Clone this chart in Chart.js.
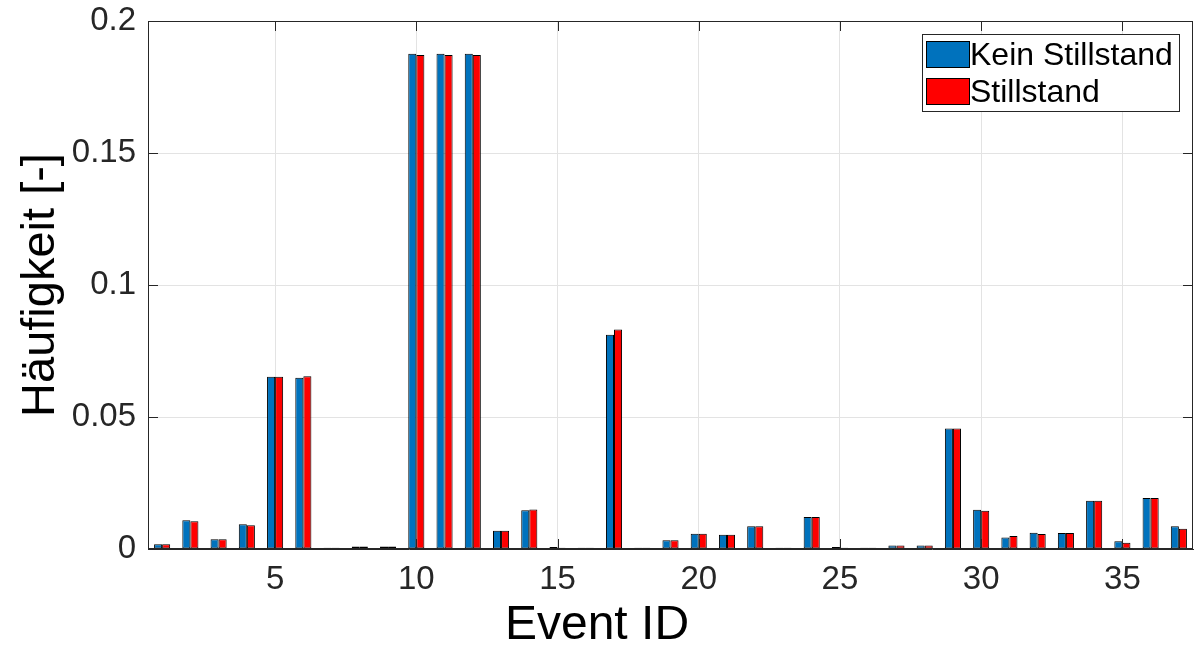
<!DOCTYPE html>
<html>
<head>
<meta charset="utf-8">
<script src="https://cdn.jsdelivr.net/npm/chart.js@4.4.1/dist/chart.umd.min.js"></script>
<style>
    html, body { margin: 0; padding: 0; background: #fff; }
    #wrap { width: 1201px; height: 647px; }
</style>
</head>
<body>
<div id="wrap"><canvas id="myChart" width="1201" height="647"></canvas></div>
<script>
// Event IDs 1..37
const eventIds = [1, 2, 3, 4, 5, 6, 7, 8, 9, 10, 11, 12, 13, 14, 15, 16, 17, 18, 19,
    20, 21, 22, 23, 24, 25, 26, 27, 28, 29, 30, 31, 32, 33, 34, 35, 36, 37];

const keinStillstand = [0.0018, 0.0109, 0.0037, 0.0094, 0.0652, 0.0649, 0.0005, 0.0009, 0.0009,
    0.1876, 0.1876, 0.1876, 0.0069, 0.0147, 0.0008, 0.0005, 0.0812, 0.0005, 0.0033,
    0.0058, 0.0054, 0.0086, 0.0005, 0.0121, 0.0008, 0.0005, 0.0013, 0.0013, 0.0456,
    0.0149, 0.0044, 0.0062, 0.0061, 0.0183, 0.0029, 0.0193, 0.0086];

const stillstand = [0.0018, 0.0105, 0.0037, 0.0090, 0.0652, 0.0654, 0.0005, 0.0009, 0.0009,
    0.1871, 0.1871, 0.1871, 0.0069, 0.0150, 0.0005, 0.0005, 0.0831, 0.0005, 0.0033,
    0.0058, 0.0054, 0.0086, 0.0005, 0.0121, 0.0005, 0.0005, 0.0013, 0.0013, 0.0456,
    0.0145, 0.0049, 0.0057, 0.0061, 0.0183, 0.0024, 0.0193, 0.0077];

const yTicks = [0, 0.05, 0.1, 0.15, 0.2];
const xTickStep = 5;

const axisColor = '#262626';
const gridColor = '#e3e3e3';
const fontFamily = 'Arial, "Liberation Sans", sans-serif';

// box + inner ticks + x title + legend inside top right (matlab look)
const matlabBox = {
    id: 'matlabBox',
    afterDraw(chart) {
        const ctx = chart.ctx;
        const a = chart.chartArea;
        const xs = chart.scales.x, ys = chart.scales.y;
        ctx.save();
        ctx.strokeStyle = axisColor;
        ctx.lineWidth = 1;
        ctx.strokeRect(a.left + 0.5, a.top + 0.5, a.right - a.left - 1, a.bottom - a.top - 1);

        // inner ticks
        ctx.beginPath();
        yTicks.forEach(v => {
            const y = Math.round(ys.getPixelForValue(v)) + 0.5;
            ctx.moveTo(a.left, y); ctx.lineTo(a.left + 10, y);
            ctx.moveTo(a.right, y); ctx.lineTo(a.right - 10, y);
        });
        eventIds.forEach((id, i) => {
            if (id % xTickStep !== 0) return;
            const x = Math.round(xs.getPixelForValue(i)) + 0.5;
            ctx.moveTo(x, a.bottom); ctx.lineTo(x, a.bottom - 10);
            ctx.moveTo(x, a.top); ctx.lineTo(x, a.top + 10);
        });
        ctx.stroke();

        // x title (sits left of plot centre in the original)
        ctx.fillStyle = '#000';
        ctx.font = '48px ' + fontFamily;
        ctx.textAlign = 'center';
        ctx.textBaseline = 'middle';
        ctx.fillText('Event ID', 597, 626);

        // legend box
        const bx = 922, by = 34, bw = 257, bh = 77;
        ctx.fillStyle = '#fff';
        ctx.fillRect(bx, by, bw, bh);
        ctx.strokeStyle = '#262626';
        ctx.strokeRect(bx + 0.5, by + 0.5, bw, bh);
        ctx.font = '32px ' + fontFamily;
        ctx.textAlign = 'left';
        chart.data.datasets.forEach((ds, i) => {
            const y = by + 7 + i * 37;
            ctx.fillStyle = ds.backgroundColor;
            ctx.fillRect(bx + 4.5, y, 43, 26);
            ctx.strokeStyle = '#000';
            ctx.strokeRect(bx + 4.5, y + 0.5, 43, 26);
            ctx.fillStyle = '#000';
            ctx.fillText(ds.label, bx + 48, y + 15);
        });
        ctx.restore();
    }
};

var ctx = document.getElementById('myChart').getContext('2d');
var myChart = new Chart(ctx, {
    type: 'bar',
    data: {
        labels: eventIds,
        datasets: [{
            label: 'Kein Stillstand',
            data: keinStillstand,
            backgroundColor: '#0072BD',
            borderColor: '#000',
            borderWidth: 1,
            borderSkipped: false
        }, {
            label: 'Stillstand',
            data: stillstand,
            backgroundColor: '#FF0000',
            borderColor: '#000',
            borderWidth: 1,
            borderSkipped: false
        }]
    },
    options: {
        responsive: false,
        animation: false,
        layout: { padding: { left: 0, right: 8, top: 0, bottom: 0 } },
        plugins: {
            legend: { display: false },
            tooltip: { enabled: false }
        },
        datasets: {
            bar: { categoryPercentage: 0.57, barPercentage: 1 }
        },
        scales: {
            x: {
                offset: true,
                grid: {
                    offset: false,
                    color: (c) => (c.tick && (c.index + 1) % xTickStep === 0) ? gridColor : 'rgba(0,0,0,0)',
                    drawTicks: false
                },
                border: { color: axisColor },
                ticks: {
                    autoSkip: false,
                    maxRotation: 0,
                    padding: 11,
                    color: axisColor,
                    font: { size: 33, family: fontFamily },
                    callback: function (val, index) {
                        var lab = eventIds[index];
                        return lab % xTickStep === 0 ? String(lab) : '';
                    }
                },
                afterFit: (scale) => { scale.height = 98; }
            },
            y: {
                min: 0,
                max: 0.2,
                afterBuildTicks: (scale) => { scale.ticks = yTicks.map(v => ({ value: v })); },
                grid: { color: gridColor, drawTicks: false },
                border: { color: axisColor },
                ticks: {
                    padding: 12,
                    color: axisColor,
                    font: { size: 33, family: fontFamily },
                    callback: (v) => String(v)
                },
                title: {
                    display: true,
                    text: 'Häufigkeit [-]',
                    color: '#000',
                    font: { size: 47, family: fontFamily, lineHeight: 1 },
                    padding: { top: 18, bottom: 0 }
                },
                afterFit: (scale) => {
                    scale.width = 148;
                    scale.paddingTop = 21;
                }
            }
        }
    },
    plugins: [matlabBox]
});
</script>
</body>
</html>
